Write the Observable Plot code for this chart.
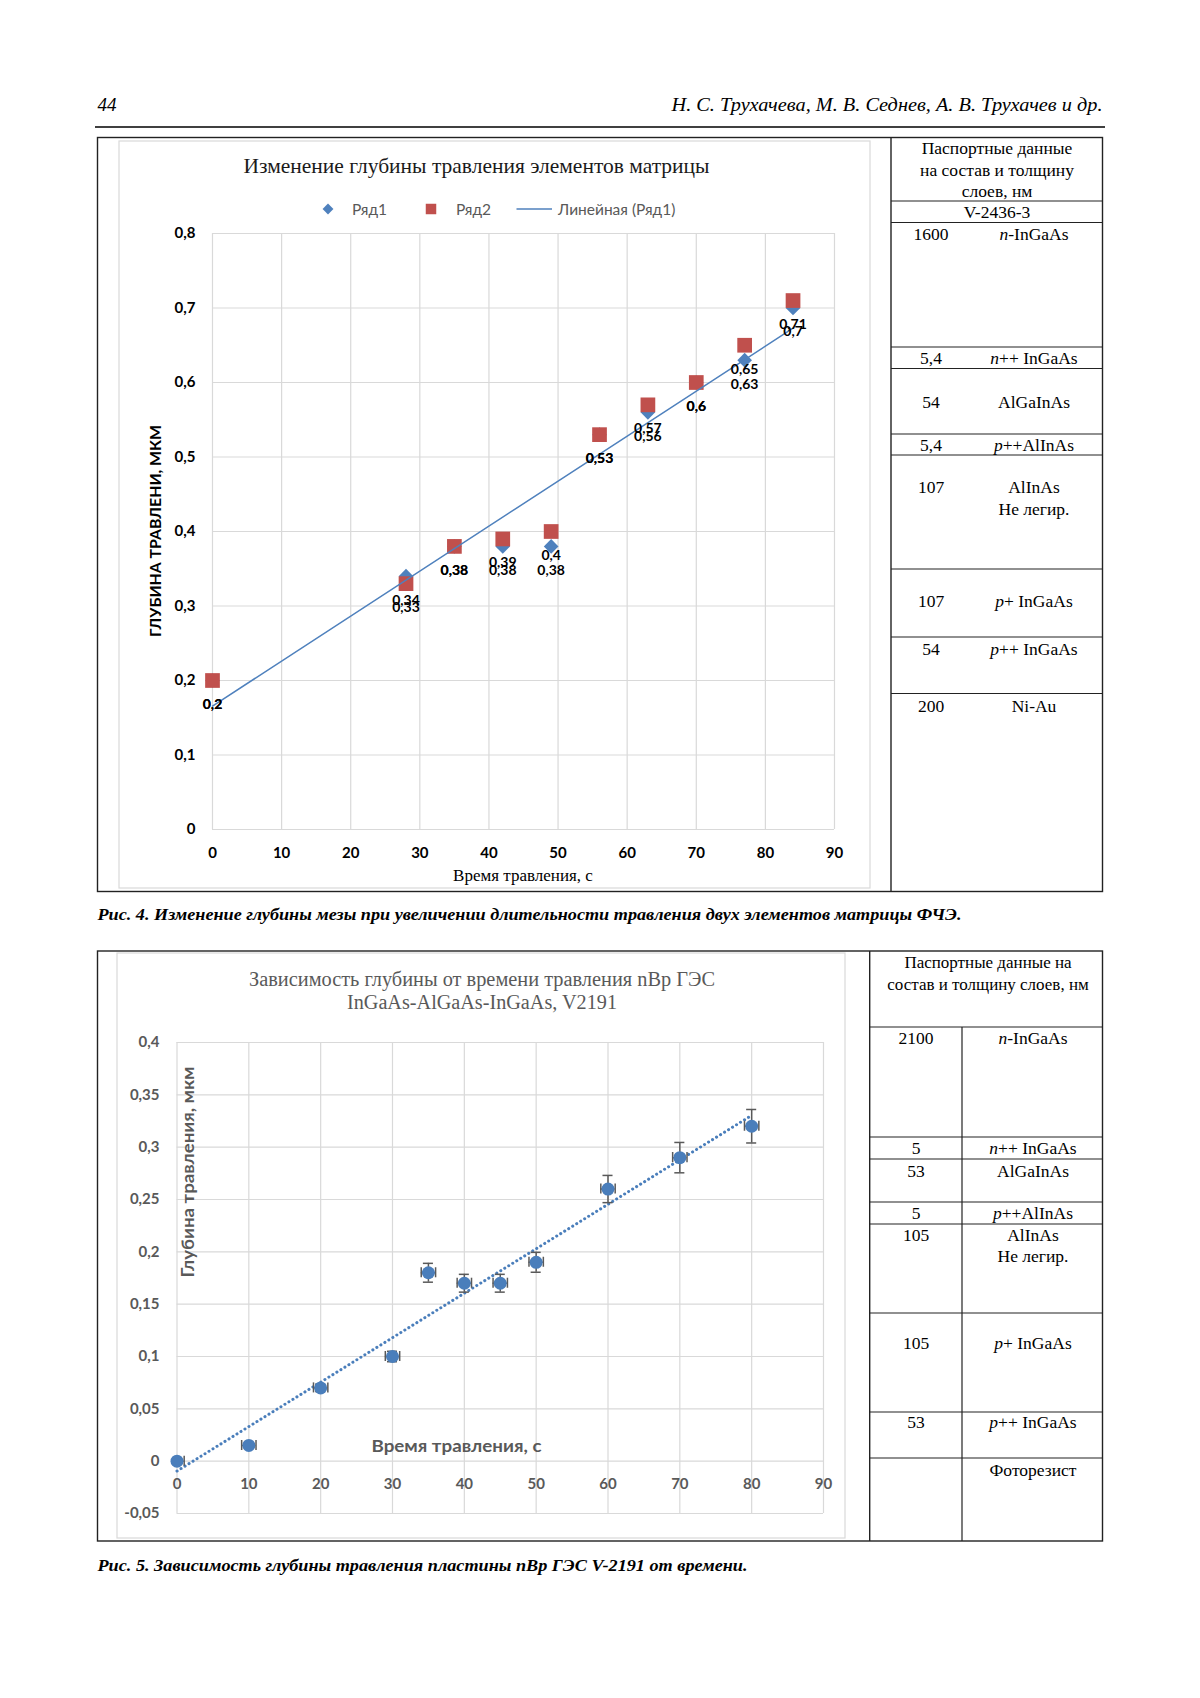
<!DOCTYPE html>
<html><head><meta charset="utf-8">
<script src="https://cdn.jsdelivr.net/npm/d3@7"></script>
<script src="https://cdn.jsdelivr.net/npm/@observablehq/plot@0.6"></script>
<style>
html,body{margin:0;padding:0;background:#fff;}
#page{position:relative;width:1200px;height:1698px;background:#fff;overflow:hidden;}
</style></head>
<body><div id="page"></div>
<script>
// ===== DATA: Fig. 4 =====
const time1 = [0, 28, 35, 42, 49, 56, 63, 70, 77, 84];
const row1 = [0.2, 0.34, 0.38, 0.38, 0.38, 0.53, 0.56, 0.6, 0.63, 0.7];
const row2 = [0.2, 0.33, 0.38, 0.39, 0.4, 0.53, 0.57, 0.6, 0.65, 0.71];
const xTicks1 = [0, 10, 20, 30, 40, 50, 60, 70, 80, 90];
const yTicks1 = [0, 0.1, 0.2, 0.3, 0.4, 0.5, 0.6, 0.7, 0.8];
const legend1 = ["Ряд1", "Ряд2", "Линейная (Ряд1)"];

// ===== DATA: Fig. 5 =====
const time2 = [0, 10, 20, 30, 35, 40, 45, 50, 60, 70, 80];
const depth2 = [0, 0.015, 0.07, 0.1, 0.18, 0.17, 0.17, 0.19, 0.26, 0.29, 0.32];
const depthErr2 = [0, 0.001, 0.0035, 0.005, 0.009, 0.0085, 0.0085, 0.0095, 0.013, 0.0145, 0.016];
const timeErr2 = [1, 1, 1, 1, 1, 1, 1, 1, 1, 1, 1];
const xTicks2 = [0, 10, 20, 30, 40, 50, 60, 70, 80, 90];
const yTicks2 = [-0.05, 0, 0.05, 0.1, 0.15, 0.2, 0.25, 0.3, 0.35, 0.4];

// ===== TABLE TEXTS =====
const table1Header = ["Паспортные данные", "на состав и толщину", "слоев, нм"];
const table1Sample = "V-2436-3";
const table1Thick = ["1600", "5,4", "54", "5,4", "107", "107", "54", "200"];
const table1Mat = ["*n*-InGaAs", "*n*++ InGaAs", "AlGaInAs", "*p*++AlInAs", "AlInAs|Не легир.", "*p*+ InGaAs", "*p*++ InGaAs", "Ni-Au"];
const table2Header = ["Паспортные данные на", "состав и толщину слоев, нм"];
const table2Thick = ["2100", "5", "53", "5", "105", "105", "53", ""];
const table2Mat = ["*n*-InGaAs", "*n*++ InGaAs", "AlGaInAs", "*p*++AlInAs", "AlInAs|Не легир.", "*p*+ InGaAs", "*p*++ InGaAs", "Фоторезист"];

// ===== TEXTS =====
const pageNo = "44";
const authors = "Н. С. Трухачева, М. В. Седнев, А. В. Трухачев и др.";
const title1 = "Изменение глубины травления элементов матрицы";
const yLabel1 = "ГЛУБИНА ТРАВЛЕНИ, МКМ";
const xLabel1 = "Время травления, с";
const caption1 = "Рис. 4. Изменение глубины мезы при увеличении длительности травления двух элементов матрицы ФЧЭ.";
const title2 = ["Зависимость глубины от времени травления nВр ГЭС", "InGaAs-AlGaAs-InGaAs, V2191"];
const yLabel2 = "Глубина травления, мкм";
const xLabel2 = "Время травления, с";
const caption2 = "Рис. 5. Зависимость глубины травления пластины nВр ГЭС V-2191 от времени.";

// ===== STYLE =====
const BLUE1 = "#4F81BD", RED1 = "#C0504D", BLUE2 = "#4A7EBB", GRID = "#d9d9d9", GRAY = "#595959";
const SERIF = "'Liberation Serif','Times New Roman',serif";
const SANS = "Lato,'Open Sans',sans-serif";
const fmt = d => String(d).replace(".", ",");

const page = document.getElementById("page");
function place(el, left, top) {
  el.style.position = "absolute"; el.style.left = left + "px"; el.style.top = top + "px";
  page.appendChild(el);
}

// ===== CHART 1 =====
const d1a = time1.map((t, i) => ({t, v: row1[i]}));
const d1b = time1.map((t, i) => ({t, v: row2[i]}));
const labelOpts = {x: "t", y: "v", text: d => fmt(d.v), dy: 24, fontSize: 14, fontWeight: "bold", fill: "#000", fontFamily: SANS};
const chart1 = Plot.plot({
  width: 753, height: 747,
  marginLeft: 95, marginRight: 36, marginTop: 92, marginBottom: 59,
  x: {domain: [0, 90]},
  y: {domain: [0, 0.8]},
  style: {fontFamily: SANS, background: "transparent", color: "#000", overflow: "visible"},
  marks: [
    Plot.gridX(xTicks1, {stroke: GRID, strokeOpacity: 1, strokeWidth: 1.2}),
    Plot.gridY(yTicks1, {stroke: GRID, strokeOpacity: 1, strokeWidth: 1.2}),
    Plot.axisX(xTicks1, {tickSize: 0, tickPadding: 18, fontSize: 15, fontWeight: "bold", tickFormat: fmt, label: null}),
    Plot.axisY(yTicks1, {tickSize: 0, tickPadding: 17, fontSize: 15, fontWeight: "bold", tickFormat: fmt, label: null}),
    Plot.dot(d1a, {x: "t", y: "v", symbol: "diamond2", r: 6.6, fill: BLUE1}),
    Plot.dot(d1b, {x: "t", y: "v", symbol: "square", r: 8.3, fill: RED1}),
    Plot.linearRegressionY(d1a, {x: "t", y: "v", stroke: BLUE1, strokeWidth: 1.5, ci: 0}),
    Plot.text(d1a, labelOpts),
    Plot.text(d1b, labelOpts)
  ]
});
place(chart1, 117, 141);

// ===== CHART 2 =====
const d2 = time2.map((t, i) => ({t, v: depth2[i], ey: depthErr2[i], ex: timeErr2[i]}));
const capX = 0.7, capY = 0.0048;
const eb = {stroke: GRAY, strokeWidth: 1.5};
const chart2 = Plot.plot({
  width: 728, height: 585,
  marginLeft: 59.5, marginRight: 22, marginTop: 89, marginBottom: 25,
  x: {domain: [0, 90], axis: null},
  y: {domain: [-0.05, 0.4]},
  style: {fontFamily: SANS, background: "transparent", color: GRAY, overflow: "visible"},
  marks: [
    Plot.gridX(xTicks2, {stroke: GRID, strokeOpacity: 1, strokeWidth: 1.2}),
    Plot.gridY(yTicks2, {stroke: GRID, strokeOpacity: 1, strokeWidth: 1.2}),
    Plot.axisY(yTicks2, {tickSize: 0, tickPadding: 17.5, fontSize: 15, fontWeight: "bold", tickFormat: fmt, label: null}),
    Plot.text(xTicks2, {x: d => d, y: 0, text: d => fmt(d), dy: 23, fontSize: 15, fontWeight: "bold", fill: GRAY}),
    Plot.linearRegressionY(d2, {x: "t", y: "v", stroke: BLUE2, strokeWidth: 3, strokeDasharray: "0.1 4.6", strokeLinecap: "round", ci: 0}),
    Plot.ruleX(d2, {x: "t", y1: d => d.v - d.ey, y2: d => d.v + d.ey, ...eb}),
    Plot.ruleY(d2, {y: d => d.v - d.ey, x1: d => d.t - capX, x2: d => d.t + capX, ...eb}),
    Plot.ruleY(d2, {y: d => d.v + d.ey, x1: d => d.t - capX, x2: d => d.t + capX, ...eb}),
    Plot.ruleY(d2, {y: "v", x1: d => d.t - d.ex, x2: d => d.t + d.ex, clip: true, ...eb}),
    Plot.ruleX(d2, {x: d => d.t - d.ex, y1: d => d.v - capY, y2: d => d.v + capY, clip: true, ...eb}),
    Plot.ruleX(d2, {x: d => d.t + d.ex, y1: d => d.v - capY, y2: d => d.v + capY, clip: true, ...eb}),
    Plot.dot(d2, {x: "t", y: "v", r: 6.5, fill: BLUE2})
  ]
});
place(chart2, 117, 953);

// ===== OVERLAY (page furniture, tables, titles, legend) =====
const svg = d3.select(page).append("svg")
  .attr("width", 1200).attr("height", 1698)
  .style("position", "absolute").style("left", "0px").style("top", "0px");

function ln(x1, y1, x2, y2, stroke = "#000", w = 1) {
  svg.append("line").attr("x1", x1).attr("y1", y1).attr("x2", x2).attr("y2", y2)
    .attr("stroke", stroke).attr("stroke-width", w);
}
function box(x, y, w, h, stroke = "#000", sw = 1) {
  svg.append("rect").attr("x", x).attr("y", y).attr("width", w).attr("height", h)
    .attr("fill", "none").attr("stroke", stroke).attr("stroke-width", sw);
}
function txt(x, y, str, o = {}) {
  const t = svg.append("text").attr("x", x).attr("y", y)
    .attr("font-family", o.family || SERIF).attr("font-size", o.size || 18)
    .attr("font-weight", o.weight || "normal").attr("font-style", o.style || "normal")
    .attr("text-anchor", o.anchor || "middle").attr("dominant-baseline", "central")
    .attr("fill", o.fill || "#000");
  if (o.rotate) t.attr("transform", `rotate(${o.rotate},${x},${y})`);
  str.split("*").forEach((p, i) => {
    if (!p) return;
    const ts = t.append("tspan").text(p);
    if (i % 2 === 1) ts.attr("font-style", "italic");
  });
  if (o.len) t.attr("textLength", o.len).attr("lengthAdjust", "spacingAndGlyphs");
  return t;
}

// header
txt(97.5, 104, pageNo, {anchor: "start", style: "italic", size: 19});
txt(1102.5, 104, authors, {anchor: "end", style: "italic", size: 19, len: 431});
ln(95, 127, 1105, 127, "#000", 1.5);

// Figure 1 frame
box(119, 141, 751, 747, GRID, 1.2);
box(97.5, 137.5, 1005, 754, "#222", 1.4);
ln(891, 137.5, 891, 891.5, "#222", 1.4);

// Table 1
const t1Lines = [201, 222.5, 347, 368.5, 434, 455, 569, 637, 693.5];
t1Lines.forEach(y => ln(891, y, 1102.5, y, "#222", 1.2));
const t1HeadY = [148, 170, 191];
table1Header.forEach((s, i) => txt(997, t1HeadY[i], s, {size: 17.5}));
txt(997, 211.5, table1Sample, {size: 17.5});
const t1RowY = [234, 357.5, 402, 444.5, 487, 601, 649, 706];
table1Thick.forEach((s, i) => txt(931, t1RowY[i], s, {size: 17.5}));
table1Mat.forEach((s, i) => s.split("|").forEach((p, j) => txt(1034, t1RowY[i] + j * 22, p, {size: 17.5})));

// Chart 1 titles, legend, axis labels
txt(476.5, 166, title1, {size: 21, len: 466, fill: "#1a1a1a"});
const legY = 209;
svg.append("path").attr("d", d3.symbol(d3.symbolDiamond2, 75)()).attr("transform", `translate(328,${legY})`).attr("fill", BLUE1);
txt(352, legY, legend1[0], {family: SANS, size: 15.5, anchor: "start", fill: GRAY});
svg.append("path").attr("d", d3.symbol(d3.symbolSquare, 110)()).attr("transform", `translate(431,${legY})`).attr("fill", RED1);
txt(456, legY, legend1[1], {family: SANS, size: 15.5, anchor: "start", fill: GRAY});
ln(516.5, legY, 552, legY, BLUE1, 1.6);
txt(558, legY, legend1[2], {family: SANS, size: 15.5, anchor: "start", fill: GRAY});
txt(155, 531, yLabel1, {family: SANS, size: 15.5, weight: "bold", rotate: -90, len: 212});
txt(523, 875, xLabel1, {size: 17});

// caption 1
txt(97.5, 914, caption1, {anchor: "start", size: 17, weight: "bold", style: "italic", len: 864});

// Figure 2 frame
box(117, 953, 728, 585, GRID, 1.2);
box(97.5, 951, 1005, 590, "#222", 1.4);
ln(869.7, 951, 869.7, 1541, "#222", 1.4);
ln(962, 1027, 962, 1541, "#222", 1.2);

// Table 2
const t2Lines = [1027, 1137, 1159, 1202, 1224, 1313, 1412, 1458];
t2Lines.forEach(y => ln(869.7, y, 1102.5, y, "#222", 1.2));
const t2HeadY = [962, 984];
table2Header.forEach((s, i) => txt(988, t2HeadY[i], s, {size: 17}));
const t2RowY = [1037.5, 1148, 1171, 1213, 1235, 1343, 1422, 1470];
table2Thick.forEach((s, i) => { if (s) txt(916, t2RowY[i], s, {size: 17.5}); });
table2Mat.forEach((s, i) => s.split("|").forEach((p, j) => txt(1033, t2RowY[i] + j * 21, p, {size: 17.5})));

// Chart 2 titles and axis labels
txt(482, 979, title2[0], {size: 20, len: 466, fill: GRAY});
txt(482, 1002, title2[1], {size: 20, len: 270, fill: GRAY});
txt(187.5, 1172, yLabel2, {family: SANS, size: 16.5, weight: "bold", rotate: -90, fill: GRAY, len: 211});
txt(456.5, 1445, xLabel2, {family: SANS, size: 17, weight: "bold", fill: GRAY, len: 170});

// caption 2
txt(97.5, 1565, caption2, {anchor: "start", size: 17, weight: "bold", style: "italic", len: 650});
</script>
</body></html>
